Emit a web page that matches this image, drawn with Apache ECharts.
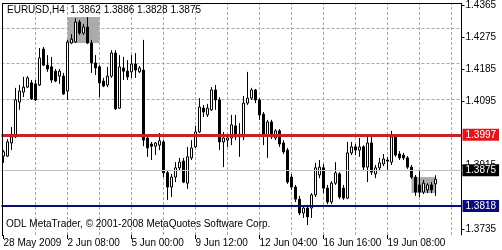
<!DOCTYPE html>
<html><head><meta charset="utf-8">
<script src="https://cdn.jsdelivr.net/npm/echarts@6/dist/echarts.min.js"></script>
<style>html,body{margin:0;padding:0;background:#fff}#c{width:502px;height:250px}</style>
</head><body><div id="c"></div>
<script>
// EURUSD H4 bars (open, high, low, close)
const openP = [1.3940,1.3940,1.3977,1.3994,1.4092,1.4120,1.4134,1.4146,1.4143,1.4140,
1.4241,1.4196,1.4191,1.4179,1.4165,1.4165,1.4123,1.4258,1.4261,1.4317,
1.4286,1.4303,1.4258,1.4202,1.4191,1.4151,1.4140,1.4165,1.4230,1.4075,
1.4188,1.4179,1.4177,1.4199,1.4177,1.4182,1.3991,1.3974,1.3968,1.3971,
1.3980,1.3893,1.3853,1.3881,1.3907,1.3926,1.3864,1.3935,1.3966,1.4008,
1.4075,1.4056,1.4070,1.4126,1.4098,1.3980,1.3985,1.3991,1.4025,1.3994,
1.3994,1.4089,1.4103,1.4126,1.4098,1.4058,1.3997,1.4036,1.3991,1.4011,
1.3977,1.3957,1.3881,1.3853,1.3819,1.3780,1.3794,1.3794,1.3831,1.3887,
1.3907,1.3850,1.3811,1.3864,1.3890,1.3850,1.3822,1.3949,1.3966,1.3957,
1.3966,1.3909,1.3977,1.3890,1.3907,1.3918,1.3929,1.3923,1.3994,1.3946,
1.3943,1.3935,1.3909,1.3881,1.3859,1.3839,1.3845,1.3859,1.3862];
const highP = [1.3957,1.3988,1.4022,1.4132,1.4140,1.4163,1.4165,1.4154,1.4154,1.4244,
1.4247,1.4224,1.4219,1.4185,1.4185,1.4174,1.4267,1.4283,1.4328,1.4323,
1.4312,1.4331,1.4267,1.4224,1.4196,1.4160,1.4191,1.4238,1.4238,1.4224,
1.4219,1.4210,1.4224,1.4230,1.4193,1.4267,1.3999,1.3980,1.3980,1.4005,
1.3985,1.3901,1.3890,1.3923,1.3935,1.3935,1.3966,1.3985,1.4025,1.4103,
1.4084,1.4087,1.4134,1.4140,1.4106,1.4008,1.3999,1.4056,1.4056,1.4033,
1.4109,1.4177,1.4132,1.4129,1.4103,1.4064,1.4042,1.4042,1.4016,1.4016,
1.3985,1.3963,1.3890,1.3859,1.3828,1.3800,1.3803,1.3836,1.3921,1.3929,
1.3918,1.3859,1.3870,1.3923,1.3895,1.3859,1.3980,1.3980,1.3974,1.3991,
1.3971,1.3997,1.3999,1.3915,1.3935,1.3946,1.3938,1.4011,1.4002,1.3954,
1.3949,1.3940,1.3915,1.3887,1.3901,1.3873,1.3864,1.3867,1.3886];
const lowP = [1.3921,1.3938,1.3957,1.3991,1.4070,1.4106,1.4132,1.4098,1.4095,1.4137,
1.4193,1.4177,1.4146,1.4148,1.4143,1.4112,1.4098,1.4255,1.4258,1.4281,
1.4281,1.4255,1.4174,1.4168,1.4106,1.4134,1.4134,1.4160,1.4070,1.4073,
1.4154,1.4154,1.4160,1.4160,1.4174,1.3968,1.3938,1.3929,1.3943,1.3957,
1.3881,1.3817,1.3825,1.3867,1.3901,1.3864,1.3848,1.3929,1.3963,1.4005,
1.4050,1.4050,1.4067,1.4070,1.3957,1.3909,1.3966,1.3971,1.3985,1.3938,
1.3985,1.4084,1.4098,1.4089,1.4042,1.3971,1.3935,1.3988,1.3985,1.3966,
1.3946,1.3862,1.3845,1.3811,1.3774,1.3766,1.3746,1.3766,1.3825,1.3878,
1.3836,1.3805,1.3805,1.3859,1.3819,1.3817,1.3819,1.3943,1.3943,1.3938,
1.3901,1.3867,1.3887,1.3878,1.3901,1.3912,1.3901,1.3915,1.3938,1.3929,
1.3929,1.3904,1.3876,1.3828,1.3825,1.3833,1.3836,1.3836,1.3828];
const closeP = [1.3952,1.3980,1.3994,1.4098,1.4123,1.4134,1.4160,1.4101,1.4098,1.4216,
1.4196,1.4185,1.4154,1.4151,1.4179,1.4115,1.4261,1.4269,1.4317,1.4286,
1.4303,1.4258,1.4202,1.4188,1.4146,1.4137,1.4165,1.4230,1.4073,1.4191,
1.4179,1.4163,1.4199,1.4182,1.4188,1.3985,1.3963,1.3968,1.3977,1.3983,
1.3893,1.3853,1.3881,1.3907,1.3923,1.3867,1.3938,1.3963,1.4008,1.4078,
1.4064,1.4075,1.4126,1.4098,1.3980,1.3991,1.3991,1.4028,1.3994,1.4002,
1.4089,1.4103,1.4126,1.4098,1.4056,1.3997,1.4036,1.3994,1.4011,1.3974,
1.3952,1.3867,1.3853,1.3819,1.3780,1.3794,1.3769,1.3831,1.3907,1.3909,
1.3850,1.3811,1.3864,1.3893,1.3825,1.3822,1.3949,1.3966,1.3957,1.3966,
1.3909,1.3977,1.3895,1.3907,1.3921,1.3932,1.3926,1.3994,1.3943,1.3935,
1.3935,1.3909,1.3881,1.3839,1.3839,1.3864,1.3859,1.3845,1.3875];

const slotCount = 115;                 // bar slots incl. empty right margin
const timeLabels = ['28 May 2009','2 Jun 08:00','5 Jun 00:00','9 Jun 12:00','12 Jun 04:00','16 Jun 16:00','19 Jun 08:00'];
const labelEvery = 16;
const gridColumns = [8,16,24,32,40,48,56,64,72,80,88,96,104,112];
const priceLabels = [1.4365,1.4275,1.4185,1.4095,1.3915,1.3735];
const gridPrices = [1.4365,1.4275,1.4185,1.4095,1.4005,1.3915,1.3825,1.3735];
const resistanceLevel = 1.3997;
const supportLevel = 1.3818;
const bidLevel = 1.3875;
const boxStart = [16, 102];
const boxEnd = [24, 108];
const boxTop = [1.4331, 1.3881];
const boxBottom = [1.4258, 1.3836];
const titleText = 'EURUSD,H4  1.3862 1.3886 1.3828 1.3875';
const footerText = 'ODL MetaTrader, \u00A9 2001-2008 MetaQuotes Software Corp.';
const yMin = 1.3718125, yMax = 1.43678125;

const slots = Array.from({length: slotCount}, (_, i) => String(i));
const candles = openP.map((o, i) => [o, closeP[i], lowP[i], highP[i]]);
const FONT = 'Liberation Sans';

const chart = echarts.init(document.getElementById('c'), null, {renderer: 'canvas'});
const priceLine = (v, lineColor, width, bg) => ({
  yAxis: v,
  lineStyle: {color: lineColor, width: width, type: 'solid'},
  label: {show: true, position: 'end', distance: 1, formatter: v.toFixed(4),
    backgroundColor: bg, color: '#ffffff', fontSize: 10, fontFamily: FONT,
    padding: [1, 3, 0, 3], lineHeight: 11}
});
chart.setOption({
  animation: false,
  backgroundColor: '#ffffff',
  grid: {left: 1.5, top: 4, width: 460, bottom: 15, containLabel: false, outerBoundsMode: 'none'},
  xAxis: {
    type: 'category', data: slots, boundaryGap: true,
    axisLine: {show: false},
    axisTick: {show: true, alignWithLabel: true, length: 4,
      interval: (i) => i % labelEvery === 0 && i / labelEvery < timeLabels.length,
      lineStyle: {color: '#000'}},
    axisLabel: {interval: (i) => i % labelEvery === 0 && i / labelEvery < timeLabels.length,
      formatter: (v, i) => timeLabels[i / labelEvery] || '',
      align: 'left', margin: 3, color: '#000', fontSize: 10, fontFamily: FONT},
    splitLine: {show: false}
  },
  yAxis: {
    type: 'value', position: 'right', min: yMin, max: yMax,
    axisLine: {show: true, lineStyle: {color: '#000', width: 1}},
    axisTick: {show: true, length: 3, customValues: priceLabels, lineStyle: {color: '#000'}},
    axisLabel: {customValues: priceLabels, formatter: (v) => v.toFixed(4),
      margin: 4, color: '#000', fontSize: 10, fontFamily: FONT},
    splitLine: {show: false}
  },
  graphic: [
    {type: 'line', shape: {x1: 2.5, y1: 3, x2: 2.5, y2: 236}, style: {stroke: '#000', lineWidth: 1}, z: 50},
    {type: 'line', shape: {x1: 2, y1: 3.5, x2: 462, y2: 3.5}, style: {stroke: '#000', lineWidth: 1}, z: 50},
    {type: 'text', left: 7, top: 5, z: 60, style: {text: titleText, fill: '#000', font: '10px "Liberation Sans"'}},
    {type: 'text', left: 6, top: 219, z: 60, style: {text: footerText, fill: '#000', font: '10px "Liberation Sans"'}}
  ],
  series: [
    {
      type: 'line', data: [], z: 1, silent: true,
      markLine: {silent: true, symbol: ['none', 'none'], z: 1, animation: false,
        label: {show: false},
        lineStyle: {color: '#a8a8a8', type: [3, 2], width: 1},
        data: [...gridColumns.map(c => ({xAxis: c})), ...gridPrices.map(p => ({yAxis: p}))]},
      markArea: {silent: true, z: 2, animation: false,
        itemStyle: {color: '#ababab', opacity: 1},
        data: boxStart.map((s, k) => [{xAxis: s, yAxis: boxTop[k]}, {xAxis: boxEnd[k], yAxis: boxBottom[k]}])}
    },
    {
      type: 'candlestick', data: candles, z: 3, barWidth: 2,
      itemStyle: {color: '#ffffff', color0: '#000000', borderColor: '#000000', borderColor0: '#000000', borderColorDoji: '#000000', borderWidth: 1}
    },
    {
      type: 'line', data: [], z: 4, silent: true,
      markLine: {silent: true, symbol: ['none', 'none'], z: 5, animation: false,
        data: [
          priceLine(bidLevel, '#c0c0c0', 1, '#000000'),
          priceLine(resistanceLevel, '#c4232a', 3, '#e3151c'),
          priceLine(supportLevel, '#0c0c78', 2, '#0a0a7a')
        ]}
    }
  ]
});
</script></body></html>
